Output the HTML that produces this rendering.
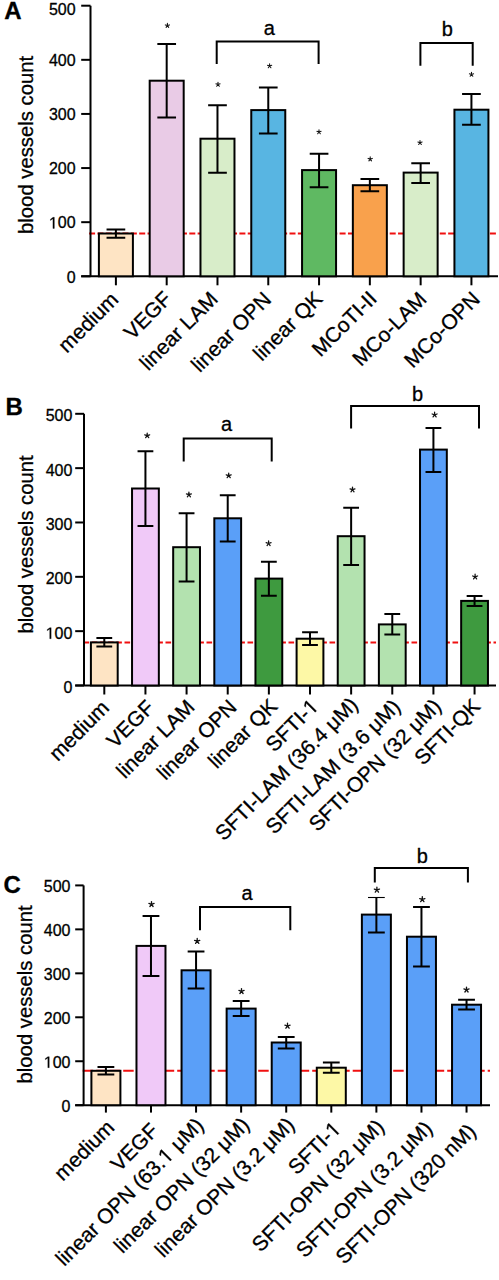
<!DOCTYPE html>
<html><head><meta charset="utf-8"><style>
html,body{margin:0;padding:0;background:#fff;}
svg{display:block;}
text{font-family:"Liberation Sans", sans-serif;fill:#000;stroke:#000;stroke-width:0.3px;}
.k{stroke:#000;stroke-width:2;fill:none;}
.bar{stroke:#000;stroke-width:2;}
.red{stroke:#f01010;stroke-width:2;}
.tl{font-size:16px;text-anchor:end;}
.xl{font-size:21px;text-anchor:end;}
.yl{font-size:20.3px;text-anchor:middle;}
.br{font-size:20px;text-anchor:middle;}
.pl{font-size:24px;font-weight:bold;}
.h{fill-opacity:0;stroke-opacity:0;}
</style></head><body>
<svg width="499" height="1280" viewBox="0 0 499 1280">
<defs><path id="star" d="M0 0L0.00 -2.60M0 0L2.47 -0.80M0 0L1.53 2.10M0 0L-1.53 2.10M0 0L-2.47 -0.80" stroke="#111" stroke-width="1.25" stroke-linecap="round" fill="none"/></defs>
<rect width="499" height="1280" fill="#fff"/>
<line x1="89.1" y1="233.4" x2="498" y2="233.4" class="red" stroke-dasharray="6 2.35"/>
<line x1="90.5" y1="5.7" x2="90.5" y2="276.3" class="k"/>
<line x1="81.2" y1="276.3" x2="498" y2="276.3" class="k"/>
<line x1="81.2" y1="276.30" x2="90.5" y2="276.30" class="k"/>
<text x="75.6" y="282.50" class="tl">0</text>
<line x1="81.2" y1="222.18" x2="90.5" y2="222.18" class="k"/>
<text x="75.6" y="228.38" class="tl"><tspan class="h">1</tspan>00</text>
<path d="M515 0L515 1237L197 1010L197 1180L530 1409L696 1409L696 0Z" transform="translate(48.905 228.380) scale(0.007812 -0.007812)" fill="#000" stroke="#000" stroke-width="38.4"/>
<line x1="81.2" y1="168.06" x2="90.5" y2="168.06" class="k"/>
<text x="75.6" y="174.26" class="tl">200</text>
<line x1="81.2" y1="113.94" x2="90.5" y2="113.94" class="k"/>
<text x="75.6" y="120.14" class="tl">300</text>
<line x1="81.2" y1="59.82" x2="90.5" y2="59.82" class="k"/>
<text x="75.6" y="66.02" class="tl">400</text>
<line x1="81.2" y1="5.70" x2="90.5" y2="5.70" class="k"/>
<text x="75.6" y="15.40" class="tl">500</text>
<rect x="98.90" y="233.50" width="34.00" height="42.80" fill="#fee4c4" class="bar"/>
<rect x="149.69" y="80.70" width="34.00" height="195.60" fill="#e9cbe6" class="bar"/>
<rect x="200.48" y="138.70" width="34.00" height="137.60" fill="#d8edc9" class="bar"/>
<rect x="251.27" y="110.10" width="34.00" height="166.20" fill="#58b5e2" class="bar"/>
<rect x="302.06" y="170.10" width="34.00" height="106.20" fill="#5fb962" class="bar"/>
<rect x="352.85" y="185.20" width="34.00" height="91.10" fill="#f9a14c" class="bar"/>
<rect x="403.64" y="172.60" width="34.00" height="103.70" fill="#d8edc9" class="bar"/>
<rect x="454.43" y="109.70" width="34.00" height="166.60" fill="#58b5e2" class="bar"/>
<path d="M115.90 229.50V237.70M106.55 229.50H125.25M106.55 237.70H125.25" class="k"/>
<line x1="115.90" y1="276.3" x2="115.90" y2="285.3" class="k"/>
<text x="119.70" y="300.80" class="xl" transform="rotate(-45 119.70 300.80)">medium</text>
<path d="M166.69 44.00V117.50M157.34 44.00H176.04M157.34 117.50H176.04" class="k"/>
<line x1="166.69" y1="276.3" x2="166.69" y2="285.3" class="k"/>
<text x="172.94" y="300.20" class="xl" transform="rotate(-45 172.94 300.20)">VEGF</text>
<use href="#star" transform="translate(167.4 25.6) scale(0.85)"/>
<path d="M217.48 105.30V172.70M208.13 105.30H226.83M208.13 172.70H226.83" class="k"/>
<line x1="217.48" y1="276.3" x2="217.48" y2="285.3" class="k"/>
<text x="219.18" y="300.40" class="xl" transform="rotate(-45 219.18 300.40)">linear LAM</text>
<use href="#star" transform="translate(218 84.5) scale(0.85)"/>
<path d="M268.27 87.50V133.60M258.92 87.50H277.62M258.92 133.60H277.62" class="k"/>
<line x1="268.27" y1="276.3" x2="268.27" y2="285.3" class="k"/>
<text x="272.42" y="300.70" class="xl" transform="rotate(-45 272.42 300.70)">linear OPN</text>
<use href="#star" transform="translate(269.6 66) scale(0.85)"/>
<path d="M319.06 153.70V187.20M309.71 153.70H328.41M309.71 187.20H328.41" class="k"/>
<line x1="319.06" y1="276.3" x2="319.06" y2="285.3" class="k"/>
<text x="323.66" y="300.00" class="xl" transform="rotate(-45 323.66 300.00)">linear QK</text>
<use href="#star" transform="translate(319 132) scale(0.85)"/>
<path d="M369.85 179.10V191.20M360.50 179.10H379.20M360.50 191.20H379.20" class="k"/>
<line x1="369.85" y1="276.3" x2="369.85" y2="285.3" class="k"/>
<text x="378.20" y="299.90" class="xl" transform="rotate(-45 378.20 299.90)">MCoTI-II</text>
<use href="#star" transform="translate(370.2 159.1) scale(0.85)"/>
<path d="M420.64 163.20V183.00M411.29 163.20H429.99M411.29 183.00H429.99" class="k"/>
<line x1="420.64" y1="276.3" x2="420.64" y2="285.3" class="k"/>
<text x="427.94" y="300.50" class="xl" transform="rotate(-45 427.94 300.50)">MCo-LAM</text>
<use href="#star" transform="translate(420 142.7) scale(0.85)"/>
<path d="M471.43 94.00V124.70M462.08 94.00H480.78M462.08 124.70H480.78" class="k"/>
<line x1="471.43" y1="276.3" x2="471.43" y2="285.3" class="k"/>
<text x="481.18" y="300.40" class="xl" transform="rotate(-45 481.18 300.40)">MCo-OPN</text>
<use href="#star" transform="translate(471.5 74.5) scale(0.85)"/>
<path d="M216.7 64V41.5H318.6V64" class="k" fill="none"/>
<text x="269.2" y="34.9" class="br">a</text>
<path d="M420.4 65.7V43.1H472.7V65.7" class="k" fill="none"/>
<text x="447.2" y="36" class="br">b</text>
<text x="0" y="0" class="yl" transform="translate(32.8 144.9) rotate(-90)">blood vessels count</text>
<text x="4.2" y="19.1" class="pl">A</text>
<line x1="83.5" y1="642.4" x2="496" y2="642.4" class="red" stroke-dasharray="5.6 2.6"/>
<line x1="84" y1="413.8" x2="84" y2="685.5" class="k"/>
<line x1="75.2" y1="685.5" x2="496" y2="685.5" class="k"/>
<line x1="75.2" y1="685.50" x2="84" y2="685.50" class="k"/>
<text x="72.4" y="693.00" class="tl">0</text>
<line x1="75.2" y1="631.16" x2="84" y2="631.16" class="k"/>
<text x="72.4" y="638.66" class="tl"><tspan class="h">1</tspan>00</text>
<path d="M515 0L515 1237L197 1010L197 1180L530 1409L696 1409L696 0Z" transform="translate(45.705 638.660) scale(0.007812 -0.007812)" fill="#000" stroke="#000" stroke-width="38.4"/>
<line x1="75.2" y1="576.82" x2="84" y2="576.82" class="k"/>
<text x="72.4" y="584.32" class="tl">200</text>
<line x1="75.2" y1="522.48" x2="84" y2="522.48" class="k"/>
<text x="72.4" y="529.98" class="tl">300</text>
<line x1="75.2" y1="468.14" x2="84" y2="468.14" class="k"/>
<text x="72.4" y="475.64" class="tl">400</text>
<line x1="75.2" y1="413.80" x2="84" y2="413.80" class="k"/>
<text x="72.4" y="421.30" class="tl">500</text>
<rect x="90.90" y="642.40" width="26.80" height="43.10" fill="#fee4c4" class="bar"/>
<rect x="132.04" y="488.50" width="26.80" height="197.00" fill="#f0c9f8" class="bar"/>
<rect x="173.18" y="547.20" width="26.80" height="138.30" fill="#b3e2af" class="bar"/>
<rect x="214.32" y="518.30" width="26.80" height="167.20" fill="#5a9ff8" class="bar"/>
<rect x="255.46" y="578.60" width="26.80" height="106.90" fill="#3e9a3f" class="bar"/>
<rect x="296.60" y="638.70" width="26.80" height="46.80" fill="#fdf8a6" class="bar"/>
<rect x="337.74" y="536.20" width="26.80" height="149.30" fill="#b3e2af" class="bar"/>
<rect x="378.88" y="624.40" width="26.80" height="61.10" fill="#b3e2af" class="bar"/>
<rect x="420.02" y="449.60" width="26.80" height="235.90" fill="#5a9ff8" class="bar"/>
<rect x="461.16" y="600.90" width="26.80" height="84.60" fill="#3e9a3f" class="bar"/>
<path d="M104.30 638.00V646.50M96.40 638.00H112.20M96.40 646.50H112.20" class="k"/>
<line x1="104.30" y1="685.5" x2="104.30" y2="694.5" class="k"/>
<text x="110.50" y="709.20" class="xl" transform="rotate(-45 110.50 709.20)">medium</text>
<path d="M145.44 451.20V526.00M137.54 451.20H153.34M137.54 526.00H153.34" class="k"/>
<line x1="145.44" y1="685.5" x2="145.44" y2="694.5" class="k"/>
<text x="155.63" y="708.80" class="xl" transform="rotate(-45 155.63 708.80)">VEGF</text>
<use href="#star" transform="translate(147.2 435.6) scale(1.0)"/>
<path d="M186.58 513.20V581.40M178.68 513.20H194.48M178.68 581.40H194.48" class="k"/>
<line x1="186.58" y1="685.5" x2="186.58" y2="694.5" class="k"/>
<text x="195.96" y="708.40" class="xl" transform="rotate(-45 195.96 708.40)">linear LAM</text>
<use href="#star" transform="translate(188.9 494.7) scale(1.0)"/>
<path d="M227.72 495.30V541.50M219.82 495.30H235.62M219.82 541.50H235.62" class="k"/>
<line x1="227.72" y1="685.5" x2="227.72" y2="694.5" class="k"/>
<text x="238.09" y="708.40" class="xl" transform="rotate(-45 238.09 708.40)">linear OPN</text>
<use href="#star" transform="translate(228.7 475.6) scale(1.0)"/>
<path d="M268.86 561.70V595.70M260.96 561.70H276.76M260.96 595.70H276.76" class="k"/>
<line x1="268.86" y1="685.5" x2="268.86" y2="694.5" class="k"/>
<text x="278.62" y="707.60" class="xl" transform="rotate(-45 278.62 707.60)">linear QK</text>
<use href="#star" transform="translate(268.6 543.5) scale(1.0)"/>
<path d="M310.00 632.20V645.10M302.10 632.20H317.90M302.10 645.10H317.90" class="k"/>
<line x1="310.00" y1="685.5" x2="310.00" y2="694.5" class="k"/>
<text x="319.75" y="707.70" class="xl" transform="rotate(-45 319.75 707.70)">SFTI-<tspan class="h">1</tspan></text>
<g transform="rotate(-45 319.75 707.70)"><path d="M515 0L515 1237L197 1010L197 1180L530 1409L696 1409L696 0Z" transform="translate(308.062 707.700) scale(0.010254 -0.010254)" fill="#000" stroke="#000" stroke-width="29.3"/></g>
<path d="M351.14 507.70V564.90M343.24 507.70H359.04M343.24 564.90H359.04" class="k"/>
<line x1="351.14" y1="685.5" x2="351.14" y2="694.5" class="k"/>
<text x="359.28" y="706.00" class="xl" transform="rotate(-45 359.28 706.00)">SFTI-LAM (36.4 μM)</text>
<use href="#star" transform="translate(352.5 489.7) scale(1.0)"/>
<path d="M392.28 614.00V634.50M384.38 614.00H400.18M384.38 634.50H400.18" class="k"/>
<line x1="392.28" y1="685.5" x2="392.28" y2="694.5" class="k"/>
<text x="401.61" y="708.00" class="xl" transform="rotate(-45 401.61 708.00)">SFTI-LAM (3.6 μM)</text>
<path d="M433.42 427.90V471.90M425.52 427.90H441.32M425.52 471.90H441.32" class="k"/>
<line x1="433.42" y1="685.5" x2="433.42" y2="694.5" class="k"/>
<text x="442.34" y="707.60" class="xl" transform="rotate(-45 442.34 707.60)">SFTI-OPN (32 μM)</text>
<use href="#star" transform="translate(434.6 414.8) scale(1.0)"/>
<path d="M474.56 596.00V606.00M466.66 596.00H482.46M466.66 606.00H482.46" class="k"/>
<line x1="474.56" y1="685.5" x2="474.56" y2="694.5" class="k"/>
<text x="481.47" y="707.60" class="xl" transform="rotate(-45 481.47 707.60)">SFTI-QK</text>
<use href="#star" transform="translate(475.1 576.8) scale(1.0)"/>
<path d="M183.7 461.5V438.5H271.7V461.5" class="k" fill="none"/>
<text x="226.6" y="430.8" class="br">a</text>
<path d="M351.1 428.5V406H479V428.5" class="k" fill="none"/>
<text x="417.5" y="401" class="br">b</text>
<text x="0" y="0" class="yl" transform="translate(32.5 544.4) rotate(-90)">blood vessels count</text>
<text x="5.5" y="415.3" class="pl">B</text>
<line x1="82.7" y1="1070.7" x2="490" y2="1070.7" class="red" stroke-dasharray="10.5 3"/>
<line x1="83.6" y1="885.4" x2="83.6" y2="1105.2" class="k"/>
<line x1="75.2" y1="1105.2" x2="490" y2="1105.2" class="k"/>
<line x1="75.2" y1="1105.20" x2="83.6" y2="1105.20" class="k"/>
<text x="70.5" y="1111.60" class="tl">0</text>
<line x1="75.2" y1="1061.24" x2="83.6" y2="1061.24" class="k"/>
<text x="70.5" y="1067.64" class="tl"><tspan class="h">1</tspan>00</text>
<path d="M515 0L515 1237L197 1010L197 1180L530 1409L696 1409L696 0Z" transform="translate(43.805 1067.640) scale(0.007812 -0.007812)" fill="#000" stroke="#000" stroke-width="38.4"/>
<line x1="75.2" y1="1017.28" x2="83.6" y2="1017.28" class="k"/>
<text x="70.5" y="1023.68" class="tl">200</text>
<line x1="75.2" y1="973.32" x2="83.6" y2="973.32" class="k"/>
<text x="70.5" y="979.72" class="tl">300</text>
<line x1="75.2" y1="929.36" x2="83.6" y2="929.36" class="k"/>
<text x="70.5" y="935.76" class="tl">400</text>
<line x1="75.2" y1="885.40" x2="83.6" y2="885.40" class="k"/>
<text x="70.5" y="891.80" class="tl">500</text>
<rect x="91.40" y="1070.80" width="29.00" height="34.40" fill="#fee4c4" class="bar"/>
<rect x="136.48" y="945.90" width="29.00" height="159.30" fill="#f0c9f8" class="bar"/>
<rect x="181.56" y="970.30" width="29.00" height="134.90" fill="#5a9ff8" class="bar"/>
<rect x="226.64" y="1008.60" width="29.00" height="96.60" fill="#5a9ff8" class="bar"/>
<rect x="271.72" y="1042.50" width="29.00" height="62.70" fill="#5a9ff8" class="bar"/>
<rect x="316.80" y="1067.70" width="29.00" height="37.50" fill="#fdf8a6" class="bar"/>
<rect x="361.88" y="914.60" width="29.00" height="190.60" fill="#5a9ff8" class="bar"/>
<rect x="406.96" y="936.70" width="29.00" height="168.50" fill="#5a9ff8" class="bar"/>
<rect x="452.04" y="1004.70" width="29.00" height="100.50" fill="#5a9ff8" class="bar"/>
<path d="M105.90 1067.00V1074.40M97.50 1067.00H114.30M97.50 1074.40H114.30" class="k"/>
<line x1="105.90" y1="1105.2" x2="105.90" y2="1112.6" class="k"/>
<text x="115.60" y="1128.90" class="xl" transform="rotate(-45 115.60 1128.90)">medium</text>
<path d="M150.98 915.90V976.00M142.58 915.90H159.38M142.58 976.00H159.38" class="k"/>
<line x1="150.98" y1="1105.2" x2="150.98" y2="1112.6" class="k"/>
<text x="159.64" y="1132.00" class="xl" transform="rotate(-45 159.64 1132.00)">VEGF</text>
<use href="#star" transform="translate(151.5 904.3) scale(1.05)"/>
<path d="M196.06 951.50V988.60M187.66 951.50H204.46M187.66 988.60H204.46" class="k"/>
<line x1="196.06" y1="1105.2" x2="196.06" y2="1112.6" class="k"/>
<text x="204.88" y="1126.50" class="xl" transform="rotate(-45 204.88 1126.50)">linear OPN (63.<tspan class="h">1</tspan> μM)</text>
<g transform="rotate(-45 204.88 1126.50)"><path d="M515 0L515 1237L197 1010L197 1180L530 1409L696 1409L696 0Z" transform="translate(150.771 1126.500) scale(0.010254 -0.010254)" fill="#000" stroke="#000" stroke-width="29.3"/></g>
<use href="#star" transform="translate(197.2 941.2) scale(1.05)"/>
<path d="M241.14 1001.00V1015.90M232.74 1001.00H249.54M232.74 1015.90H249.54" class="k"/>
<line x1="241.14" y1="1105.2" x2="241.14" y2="1112.6" class="k"/>
<text x="250.72" y="1126.10" class="xl" transform="rotate(-45 250.72 1126.10)">linear OPN (32 μM)</text>
<use href="#star" transform="translate(241.5 991.3) scale(1.05)"/>
<path d="M286.22 1036.90V1048.40M277.82 1036.90H294.62M277.82 1048.40H294.62" class="k"/>
<line x1="286.22" y1="1105.2" x2="286.22" y2="1112.6" class="k"/>
<text x="295.76" y="1126.10" class="xl" transform="rotate(-45 295.76 1126.10)">linear OPN (3.2 μM)</text>
<use href="#star" transform="translate(287.5 1026) scale(1.05)"/>
<path d="M331.30 1062.40V1072.80M322.90 1062.40H339.70M322.90 1072.80H339.70" class="k"/>
<line x1="331.30" y1="1105.2" x2="331.30" y2="1112.6" class="k"/>
<text x="342.20" y="1130.30" class="xl" transform="rotate(-45 342.20 1130.30)">SFTI-<tspan class="h">1</tspan></text>
<g transform="rotate(-45 342.20 1130.30)"><path d="M515 0L515 1237L197 1010L197 1180L530 1409L696 1409L696 0Z" transform="translate(330.512 1130.300) scale(0.010254 -0.010254)" fill="#000" stroke="#000" stroke-width="29.3"/></g>
<path d="M376.38 898.00V932.60M367.98 932.60H384.78" class="k"/>
<path d="M367.98 897.50H384.78" stroke="#000" stroke-width="1.1"/>
<line x1="376.38" y1="1105.2" x2="376.38" y2="1112.6" class="k"/>
<text x="385.44" y="1128.10" class="xl" transform="rotate(-45 385.44 1128.10)">SFTI-OPN (32 μM)</text>
<use href="#star" transform="translate(376.9 889.9) scale(1.05)"/>
<path d="M421.46 906.90V966.60M413.06 906.90H429.86M413.06 966.60H429.86" class="k"/>
<line x1="421.46" y1="1105.2" x2="421.46" y2="1112.6" class="k"/>
<text x="433.68" y="1129.70" class="xl" transform="rotate(-45 433.68 1129.70)">SFTI-OPN (3.2 μM)</text>
<use href="#star" transform="translate(422.3 899.4) scale(1.05)"/>
<path d="M466.54 999.70V1009.50M458.14 999.70H474.94M458.14 1009.50H474.94" class="k"/>
<line x1="466.54" y1="1105.2" x2="466.54" y2="1112.6" class="k"/>
<text x="477.12" y="1132.50" class="xl" transform="rotate(-45 477.12 1132.50)">SFTI-OPN (320 nM)</text>
<use href="#star" transform="translate(466.5 989.8) scale(1.05)"/>
<path d="M200 930.3V907.1H290.3V930.3" class="k" fill="none"/>
<text x="247" y="899.6" class="br">a</text>
<path d="M374.8 882.6V868H467.9V882.6" class="k" fill="none"/>
<text x="422.2" y="862.8" class="br">b</text>
<text x="0" y="0" class="yl" transform="translate(32.2 994.4) rotate(-90)">blood vessels count</text>
<text x="3.6" y="893.1" class="pl">C</text>
</svg>
</body></html>
